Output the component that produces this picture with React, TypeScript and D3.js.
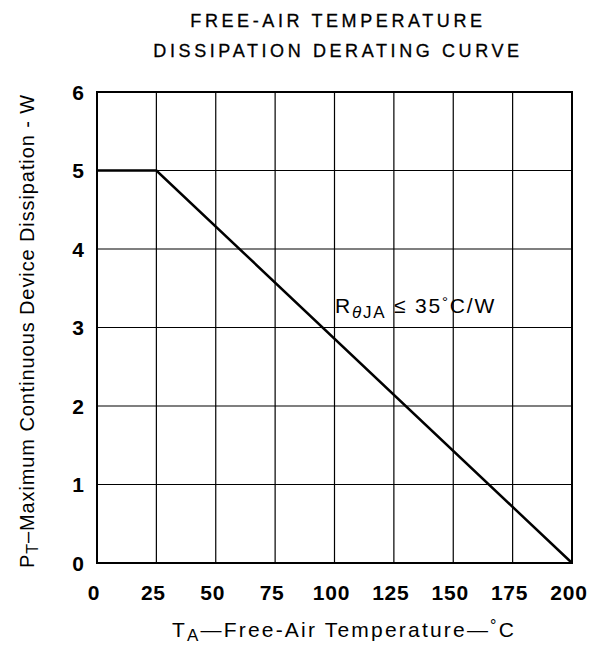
import * as d3 from "d3";

// chart data
const xTicks = [0, 25, 50, 75, 100, 125, 150, 175, 200];
const yTicks = [0, 1, 2, 3, 4, 5, 6];
const tempC = [0, 25, 200];
const powerW = [5, 5, 0];

const W = 602;
const H = 645;
const left = 97;
const right = 572;
const top = 92;
const bottom = 563;
const FONT = "'Liberation Sans', Arial, sans-serif";

export default function App() {
  const x = d3.scaleLinear().domain([0, 200]).range([left, right]);
  const y = d3.scaleLinear().domain([0, 6]).range([bottom, top]);

  const pts = tempC.map((t, i) => [t, powerW[i]] as [number, number]);
  const line = d3
    .line<[number, number]>()
    .x((d) => x(d[0]))
    .y((d) => y(d[1]));

  return (
    <svg
      width={W}
      height={H}
      style={{ position: "absolute", left: 0, top: 0, background: "#fff" }}
      fontFamily={FONT}
    >
      {/* title */}
      <text x={338} y={27} textAnchor="middle" fontSize={18} letterSpacing={3.6} stroke="#000" strokeWidth={0.3}>
        FREE-AIR TEMPERATURE
      </text>
      <text x={338} y={57} textAnchor="middle" fontSize={18} letterSpacing={3.6} stroke="#000" strokeWidth={0.3}>
        DISSIPATION DERATING CURVE
      </text>

      {/* grid */}
      {xTicks.map((t) => (
        <line key={"gx" + t} x1={x(t)} x2={x(t)} y1={top} y2={bottom} stroke="#000" strokeWidth={1.2} />
      ))}
      {yTicks.map((t) => (
        <line key={"gy" + t} x1={left} x2={right} y1={y(t)} y2={y(t)} stroke="#000" strokeWidth={1.2} />
      ))}
      <rect x={left} y={top} width={right - left} height={bottom - top} fill="none" stroke="#000" strokeWidth={2} />

      {/* derating curve */}
      <path d={line(pts) ?? ""} fill="none" stroke="#000" strokeWidth={2.5} />

      {/* annotation */}
      <text x={335} y={313} fontSize={21} letterSpacing={1.8}>
        R<tspan dy={5} fontSize={17} fontStyle="italic">θ</tspan>
        <tspan fontSize={17}>JA</tspan>
        <tspan dy={-5}> ≤ 35</tspan>
        <tspan dy={-6} fontSize={15}>°</tspan>
        <tspan dy={6}>C/W</tspan>
      </text>

      {/* y tick labels */}
      {yTicks.map((t) => (
        <text key={"ty" + t} x={78} y={y(t) + 7.5} textAnchor="middle" fontSize={21} fontWeight="bold">
          {t}
        </text>
      ))}

      {/* x tick labels */}
      {xTicks.map((t) => (
        <text
          key={"tx" + t}
          x={x(t) - 3}
          y={600}
          textAnchor="middle"
          fontSize={21}
          fontWeight="bold"
          letterSpacing={0.8}
        >
          {t}
        </text>
      ))}

      {/* x axis label */}
      <text x={344} y={637} textAnchor="middle" fontSize={21} letterSpacing={2.2}>
        T<tspan dy={4} fontSize={17}>A</tspan>
        <tspan dy={-4}>—Free-Air Temperature—</tspan>
        <tspan dy={-6} fontSize={16}>°</tspan>
        <tspan dy={6}>C</tspan>
      </text>

      {/* y axis label */}
      <text
        transform={`translate(34, 331) rotate(-90)`}
        textAnchor="middle"
        fontSize={20}
        letterSpacing={0.9}
      >
        P<tspan dy={4} fontSize={16}>T</tspan>
        <tspan dy={-4}>–Maximum Continuous Device Dissipation - W</tspan>
      </text>
    </svg>
  );
}
